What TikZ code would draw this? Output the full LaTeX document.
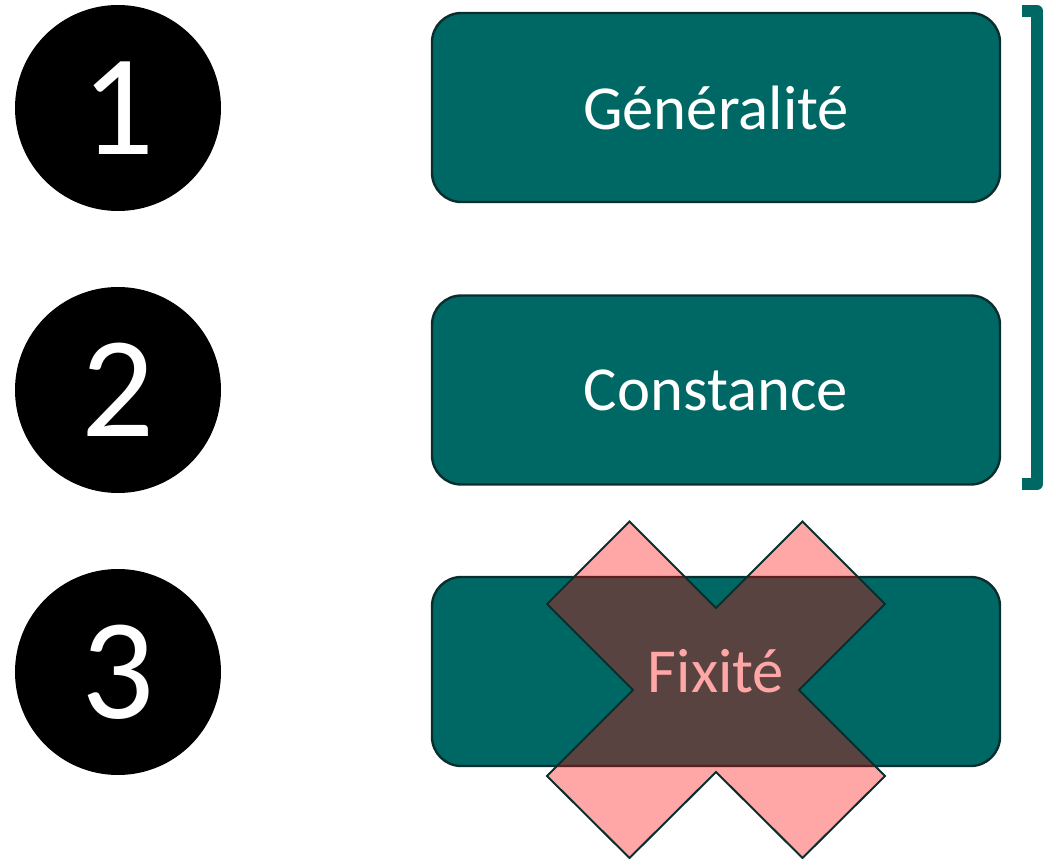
\documentclass[tikz,border=0pt]{standalone}
\usepackage{fontspec}
\setmainfont{Carlito}
\definecolor{teal1}{RGB}{0,104,100}
\definecolor{edge1}{RGB}{10,46,46}
\begin{document}
\begin{tikzpicture}[x=0.75pt,y=-0.75pt,
  numcirc/.style={circle,fill=black,minimum size=154.5pt,inner sep=0pt,text=white,font=\fontsize{108}{120}\selectfont},
  teabox/.style={rectangle,rounded corners=22pt,fill=teal1,draw=edge1,line width=1.8pt,minimum width=426pt,minimum height=141.75pt,inner sep=0pt,text=white,font=\fontsize{47}{56}\selectfont},
  crossx/.style={fill=red,fill opacity=0.35,draw=edge1,draw opacity=1,line width=1.5pt,line join=miter},
  brack/.style={draw=teal1,line width=9pt,line join=round}
]
\useasboundingbox (0,0) rectangle (1046,859);
\node[numcirc] (c1) at (118,108) {1};
\node[numcirc] (c2) at (118,390) {2};
\node[numcirc] (c3) at (118,672) {3};
\node[teabox] (b1) at (716,107.5) {Généralité};
\node[teabox] (b2) at (716,390) {Constance};
\node[teabox] (b3) at (716,671.5) {Fixité};
\draw[crossx] (716,608) -- (629.5,521.5) -- (547,604) -- (633,690) -- (547,776)
  -- (629.5,858) -- (716,772) -- (802.5,858) -- (885,776) -- (799,690)
  -- (885,604) -- (802.5,521.5) -- cycle;
\draw[brack] (1022,11) -- (1037,11) -- (1037,484) -- (1022,484);
\end{tikzpicture}
\end{document}
